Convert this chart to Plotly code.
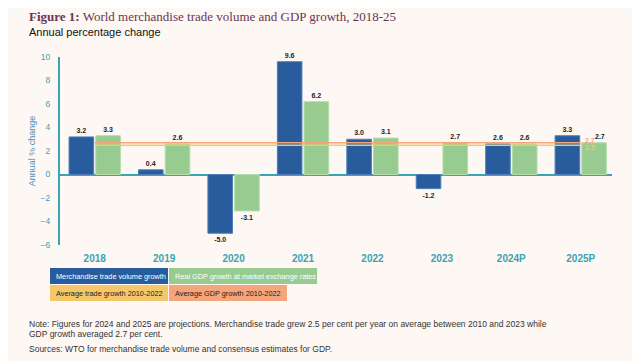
import plotly.graph_objects as go

categories = ["2018", "2019", "2020", "2021", "2022", "2023", "2024P", "2025P"]
trade_growth = [3.2, 0.4, -5.0, 9.6, 3.0, -1.2, 2.6, 3.3]
gdp_growth = [3.3, 2.6, -3.1, 6.2, 3.1, 2.7, 2.6, 2.7]
avg_trade = 2.5
avg_gdp = 2.7
y_ticks = [-6, -4, -2, 0, 2, 4, 6, 8, 10]

BLUE = "#285c9c"
GREEN = "#98cb90"
YELLOW = "#f5c76a"
ORANGE = "#f4a57c"
TEAL = "#3aa3b4"
BG = "#fdf8f3"

# page has 8px body margin; design in window pixel coords and shift
OFF = 8
W, H = 640 - OFF, 361 - OFF
PL, PR, PT, PB = 60, 612, 57, 245
L, R, T, B = PL - OFF, W - (PR - OFF), PT - OFF, H - (PB - OFF)
pw, ph = W - L - R, H - T - B


def px(x):
    return (x - PL) / pw


def py(y):
    return (PB - y) / ph


def fmt(v):
    return f"{v:.1f}"


LBL = dict(size=7, color="#222", family="Liberation Sans")

fig = go.Figure()
fig.add_trace(go.Bar(
    x=categories, y=trade_growth, name="Merchandise trade volume growth",
    marker=dict(color=BLUE, line=dict(color="#4f7fb8", width=1)),
    text=[f"<b>{fmt(v)}</b>" for v in trade_growth], textposition="outside",
    textfont=LBL, cliponaxis=False,
))
gdp_text = [f"<b>{fmt(v)}</b>" for v in gdp_growth]
gdp_text[-1] = ""  # last label placed manually (shifted right, as in the original)
fig.add_trace(go.Bar(
    x=categories, y=gdp_growth, name="Real GDP growth at market exchange rates",
    marker=dict(color=GREEN, line=dict(color="#b6dcae", width=1)),
    text=gdp_text, textposition="outside",
    textfont=LBL, cliponaxis=False,
))

fig.add_trace(go.Scatter(
    x=[categories[0], categories[-1]], y=[avg_gdp, avg_gdp], mode="lines",
    line=dict(color=ORANGE, width=1.5), showlegend=False, hoverinfo="skip"))
fig.add_trace(go.Scatter(
    x=[categories[0], categories[-1]], y=[avg_trade, avg_trade], mode="lines",
    line=dict(color=YELLOW, width=1.5), showlegend=False, hoverinfo="skip"))

fig.add_annotation(x=categories[-1], y=gdp_growth[-1], text=f"<b>{fmt(gdp_growth[-1])}</b>",
                   showarrow=False, xanchor="right", yanchor="bottom", xshift=26, yshift=1, font=LBL)
fig.add_annotation(x=categories[-1], y=avg_gdp, text=f"<b>{fmt(avg_gdp)}</b>", showarrow=False,
                   xanchor="left", yanchor="middle", xshift=2, yshift=2,
                   font=dict(size=7, color=ORANGE, family="Liberation Sans"))
fig.add_annotation(x=categories[-1], y=avg_trade, text=f"<b>{fmt(avg_trade)}</b>", showarrow=False,
                   xanchor="left", yanchor="middle", xshift=2, yshift=-2,
                   font=dict(size=7, color=YELLOW, family="Liberation Sans"))

fig.update_layout(
    width=W, height=H,
    margin=dict(l=L, r=R, t=T, b=B),
    paper_bgcolor=BG, plot_bgcolor=BG,
    barmode="group", bargap=0.23, bargroupgap=0.08,
    showlegend=False,
    font=dict(family="Liberation Sans", color="#222"),
    xaxis=dict(range=[-0.5, 7.45], showgrid=False, showline=False, ticks="",
               tickfont=dict(size=10, color=TEAL, family="Liberation Sans", weight="bold"),
               ticklabelstandoff=6, fixedrange=True),
    yaxis=dict(range=[-6, 10], tickvals=y_ticks, showgrid=False,
               showline=True, linecolor=TEAL, linewidth=2,
               zeroline=True, zerolinecolor=TEAL, zerolinewidth=2,
               tickfont=dict(size=8.5, color=TEAL, family="Liberation Sans"),
               ticks="", ticklabelstandoff=6,
               title=dict(text="Annual % change", font=dict(size=9, color="#4d8fc0"), standoff=3)),
)

fig.add_annotation(xref="paper", yref="paper", x=px(27), y=py(16), xanchor="left", yanchor="middle",
                   text="<b>Figure 1:</b> World merchandise trade volume and GDP growth, 2018-25",
                   showarrow=False, font=dict(size=13, color="#6a3557", family="Liberation Serif"))
fig.add_annotation(xref="paper", yref="paper", x=px(27), y=py(32), xanchor="left", yanchor="middle",
                   text="Annual percentage change", showarrow=False,
                   font=dict(size=11, color="#111", family="Liberation Sans"))

fig.add_shape(type="line", xref="paper", yref="paper", x0=px(22), x1=px(610), y0=py(2), y1=py(2),
              line=dict(color="#e8e3de", width=1))

legend_items = [
    (50, 168, 268, 284, BLUE, "Merchandise trade volume growth", "white"),
    (169, 317, 268, 284, GREEN, "Real GDP growth at market exchange rates", "white"),
    (50, 168, 285, 301, YELLOW, "Average trade growth 2010-2022", "#222"),
    (169, 287, 285, 301, ORANGE, "Average GDP growth 2010-2022", "#222"),
]
for x0, x1, y0, y1, col, label, tcol in legend_items:
    fig.add_shape(type="rect", xref="paper", yref="paper", x0=px(x0), x1=px(x1),
                  y0=py(y1), y1=py(y0), fillcolor=col, line=dict(width=0), layer="below")
    fig.add_annotation(xref="paper", yref="paper", x=px(x0 + 4), y=py((y0 + y1) / 2),
                       xanchor="left", yanchor="middle", text=label, showarrow=False,
                       font=dict(size=7.3, color=tcol, family="Liberation Sans"))

notes = [
    (324, "Note: Figures for 2024 and 2025 are projections. Merchandise trade grew 2.5 per cent per year on average between 2010 and 2023 while"),
    (334, "GDP growth averaged 2.7 per cent."),
    (349, "Sources: WTO for merchandise trade volume and consensus estimates for GDP."),
]
for y, t in notes:
    fig.add_annotation(xref="paper", yref="paper", x=px(27), y=py(y), xanchor="left", yanchor="middle",
                       text=t, showarrow=False, font=dict(size=8.5, color="#333", family="Liberation Sans"))

fig.write_html("out.html")
